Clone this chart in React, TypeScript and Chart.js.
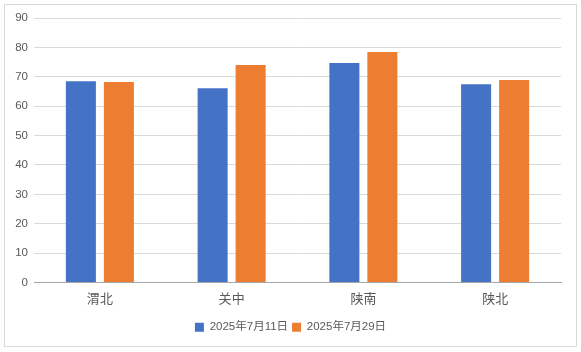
import React, { useEffect, useRef } from "react";
import { Chart, registerables } from "chart.js";

Chart.register(...registerables);

const categories = ["渭北", "关中", "陕南", "陕北"];
const seriesNames = ["2025年7月11日", "2025年7月29日"];
const series1 = [68.5, 66.1, 74.7, 67.5];
const series2 = [68.2, 74.0, 78.4, 68.9];
const yMin = 0;
const yMax = 90;
const yStep = 10;

const FONT = "'Liberation Sans', 'Noto Sans CJK SC', sans-serif";

const borderPlugin = {
  id: "outerBorder",
  beforeDraw(chart: any) {
    const ctx = chart.ctx;
    ctx.save();
    ctx.fillStyle = "#ffffff";
    ctx.fillRect(0, 0, chart.width, chart.height);
    ctx.strokeStyle = "#d9d9d9";
    ctx.lineWidth = 1;
    ctx.strokeRect(4.5, 4.5, 572, 342);
    ctx.restore();
  },
};

export default function App() {
  const ref = useRef<HTMLCanvasElement>(null);
  useEffect(() => {
    document.body.style.margin = "0";
    const chart = new Chart(ref.current!, {
      type: "bar",
      data: {
        labels: categories,
        datasets: [
          { label: seriesNames[0], data: series1, backgroundColor: "#4472C4" },
          { label: seriesNames[1], data: series2, backgroundColor: "#ED7D31" },
        ],
      },
      options: {
        animation: false,
        responsive: false,
        maintainAspectRatio: false,
        layout: { padding: { top: 18, right: 0, left: 0, bottom: 9 } },
        datasets: {
          bar: { categoryPercentage: 0.577, barPercentage: 0.79 },
        },
        plugins: {
          tooltip: { enabled: false },
          legend: {
            position: "bottom",
            labels: {
              boxWidth: 9,
              boxHeight: 9,
              padding: 4,
              color: "#595959",
              font: { family: FONT, size: 11.5 },
            },
          },
        },
        scales: {
          x: {
            grid: { display: false },
            border: { display: true, color: "#a6a6a6" },
            ticks: {
              color: "#595959",
              padding: 1,
              font: { family: FONT, size: 13 },
            },
            afterFit(scale: any) {
              scale.height = 35;
            },
          },
          y: {
            min: yMin,
            max: yMax,
            border: { display: false },
            grid: { color: "#d9d9d9", drawTicks: false },
            ticks: {
              stepSize: yStep,
              color: "#595959",
              padding: 6,
              font: { family: FONT, size: 11.5 },
            },
            afterFit(scale: any) {
              scale.width = 34;
            },
          },
          yRightSpace: {
            position: "right",
            display: true,
            min: yMin,
            max: yMax,
            grid: { display: false },
            border: { display: false },
            ticks: { display: false },
            afterFit(scale: any) {
              scale.width = 20;
            },
          },
        },
      },
      plugins: [borderPlugin],
    });
    return () => chart.destroy();
  }, []);
  return (
    <div style={{ position: "absolute", left: 0, top: 0, width: 581, height: 352 }}>
      <canvas ref={ref} width={581} height={352} style={{ width: 581, height: 352 }} />
    </div>
  );
}
